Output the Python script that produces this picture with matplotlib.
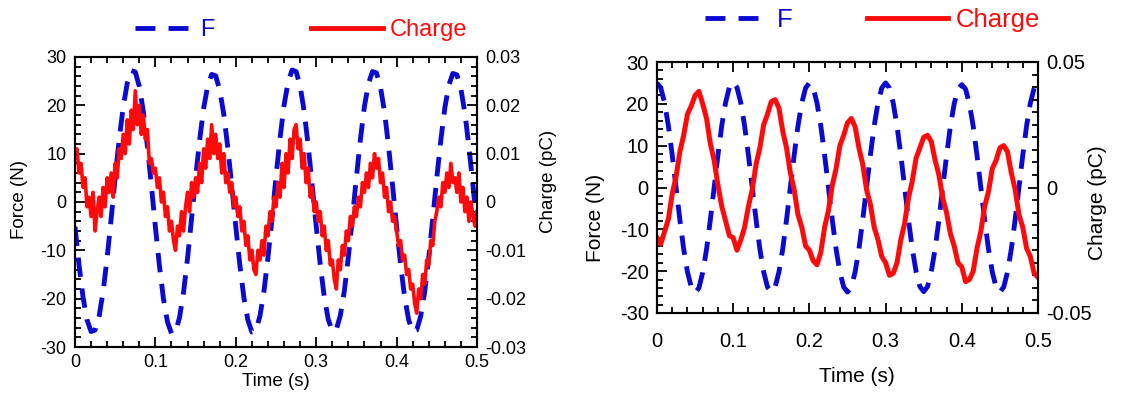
import numpy as np
import matplotlib
matplotlib.use("Agg")
import matplotlib.pyplot as plt
from matplotlib.ticker import MultipleLocator, FuncFormatter
from matplotlib.lines import Line2D

plt.rcParams['font.family'] = ['Liberation Sans', 'DejaVu Sans']
plt.rcParams['axes.unicode_minus'] = False

# --- data ---
# left panel: force (N) every 5 ms, charge (1e-3 pC) every 2.5 ms
t_left_force = np.linspace(0, 0.5, 101)
force_left = [
    -5.1, -13.0, -19.7, -24.4, -26.8, -26.5, -23.6, -18.5, -11.5, -3.4,
    5.1, 13.0, 19.7, 24.6, 27.2, 26.9, 23.9, 18.7, 11.6, 3.4,
    -5.2, -13.2, -20.0, -24.8, -27.2, -26.9, -23.9, -18.7, -11.6, -3.4,
    5.0, 12.8, 19.4, 24.0, 26.4, 26.1, 23.2, 18.2, 11.3, 3.3,
    -5.1, -13.0, -19.7, -24.4, -26.9, -26.6, -23.6, -18.5, -11.5, -3.5,
    5.2, 13.2, 20.0, 24.8, 27.3, 27.0, 24.0, 18.8, 11.7, 3.5,
    -5.0, -12.9, -19.6, -24.3, -26.7, -26.4, -23.5, -18.4, -11.4, -3.4,
    5.1, 13.0, 19.8, 24.5, 27.0, 26.7, 23.7, 18.6, 11.5, 3.4,
    -5.1, -13.0, -19.7, -24.4, -26.8, -26.5, -23.6, -18.5, -11.5, -3.4,
    5.0, 12.8, 19.5, 24.2, 26.6, 26.3, 23.4, 18.3, 11.4, 3.4,
    -5.1,
]
t_left_charge = np.linspace(0, 0.5, 201)
charge_left_milli = [
    10, 11, 6, 8, 3, 5, -1, 1, -3, 2,
    -6, -2, 1, -3, 3, -1, 5, 2, 6, 1,
    8, 5, 11, 9, 14, 10, 17, 12, 19, 15,
    23, 16, 20, 14, 18, 13, 15, 8, 9, 6,
    7, 3, 5, 0, 2, -3, -1, -6, -4, -8,
    -10, -5, -7, -2, -6, -1, 2, -2, 4, 1,
    5, 2, 8, 4, 11, 7, 13, 9, 16, 10,
    14, 9, 12, 6, 10, 4, 6, 2, 4, -1,
    1, -3, -1, -6, -4, -9, -7, -12, -10, -14,
    -15, -10, -12, -8, -11, -5, -7, -2, -4, 1,
    -1, 4, 1, 8, 3, 10, 6, 13, 9, 15,
    16, 11, 13, 7, 10, 4, 7, 1, 3, -2,
    0, -4, -2, -7, -5, -10, -8, -13, -12, -16,
    -18, -12, -14, -9, -11, -6, -8, -3, -5, -1,
    -3, 1, -1, 4, 2, 6, 3, 8, 5, 10,
    7, 9, 4, 6, 1, 3, -2, 0, -4, -3,
    -6, -9, -8, -12, -11, -15, -14, -18, -17, -21,
    -23, -18, -20, -15, -17, -12, -13, -8, -9, -4,
    -2, 1, -1, 4, 2, 6, 3, 8, 4, 5,
    2, 6, 0, 3, -2, 1, -4, 0, -3, -5,
    -2,
]

# right panel: force (N) and charge (1e-3 pC) every 5 ms
t_right = np.linspace(0, 0.5, 101)
force_right = [
    25.0, 23.8, 20.2, 14.7, 7.7, 0.0, -7.7, -14.7, -20.2, -23.8,
    -25.2, -24.0, -20.3, -14.8, -7.7, 0.0, 7.8, 14.8, 20.3, 24.0,
    25.2, 23.9, 20.2, 14.7, 7.7, 0.0, -7.7, -14.7, -20.2, -23.8,
    -25.0, -23.8, -20.2, -14.7, -7.7, 0.0, 7.7, 14.7, 20.2, 23.8,
    25.0, 23.8, 20.2, 14.7, 7.7, 0.0, -7.7, -14.7, -20.2, -23.8,
    -25.0, -23.8, -20.2, -14.7, -7.7, 0.0, 7.7, 14.7, 20.2, 23.8,
    25.0, 23.8, 20.2, 14.7, 7.7, 0.0, -7.7, -14.6, -20.1, -23.7,
    -24.9, -23.7, -20.1, -14.6, -7.7, 0.0, 7.6, 14.6, 20.0, 23.5,
    24.6, 23.5, 20.0, 14.6, 7.6, 0.0, -7.7, -14.7, -20.2, -23.8,
    -25.0, -23.8, -20.2, -14.7, -7.7, 0.0, 7.7, 14.7, 20.2, 23.8,
    25.0,
]
charge_right_milli = [
    -20, -22.5, -17.5, -12.5, -2.5, 4.2, 14.2, 20.8, 29.2, 32.5,
    36.7, 38.3, 33.3, 27.5, 17.5, 10.8, 0.8, -7.5, -13.3, -19.2,
    -20, -25, -20.8, -15.8, -7.5, -0.8, 9.2, 15.8, 25, 29.2,
    34.2, 35, 31.7, 22.5, 15.8, 5.8, -0.8, -10.8, -15.8, -23.3,
    -25, -29.2, -30.8, -25.8, -15.8, -9.2, 0.8, 7.5, 16.7, 20.8,
    25.8, 27.5, 24.2, 15.8, 9.2, -0.8, -6.7, -15.8, -20.8, -27.5,
    -30, -35, -34.2, -30, -20.8, -14.2, -4.2, 2.5, 11.7, 15.8,
    20, 20.8, 18.3, 10.8, 5, -4.2, -10, -18.3, -23.3, -30,
    -31.7, -37.5, -36.7, -33.3, -24.2, -17.5, -7.5, -1.7, 7.5, 10.8,
    15.8, 16.7, 14.2, 5.8, -0.8, -10.8, -15.8, -24.2, -27.5, -34.2,
    -35.8,
]
charge_left = np.array(charge_left_milli) * 1e-3
charge_right = np.array(charge_right_milli) * 1e-3

BLUE = '#0a0ad2'
RED = '#ff0a0a'
DASH = (0, (4, 2.4))


def fmt(v, pos):
    return f'{round(v, 6) + 0:g}'


def style(ax, ax2, fs, xpad):
    for a in (ax, ax2):
        for s in a.spines.values():
            s.set_linewidth(1.5)
    ax.tick_params(which='both', direction='in', top=True, right=False, width=1.3,
                   labelsize=fs)
    ax.tick_params(axis='x', pad=xpad)
    ax.tick_params(axis='y', pad=6)
    ax.tick_params(which='major', length=7)
    ax.tick_params(which='minor', length=4)
    ax2.tick_params(which='both', direction='in', width=1.3, labelsize=fs, pad=6)
    ax2.tick_params(which='major', length=7)
    ax2.tick_params(which='minor', length=4)
    ax.xaxis.set_major_formatter(FuncFormatter(fmt))
    ax.yaxis.set_major_formatter(FuncFormatter(fmt))
    ax2.yaxis.set_major_formatter(FuncFormatter(fmt))
    ax.set_xlim(0, 0.5)
    ax.xaxis.set_major_locator(MultipleLocator(0.1))
    ax.xaxis.set_minor_locator(MultipleLocator(0.02))
    ax.set_ylim(-30, 30)
    ax.yaxis.set_major_locator(MultipleLocator(10))
    ax.yaxis.set_minor_locator(MultipleLocator(2))


def legend_pair(ax, fs, xf, xc, y, lenf, lenc, padf):
    # two separate legends so each handle can have its own length
    hf = Line2D([], [], color=BLUE, lw=3.5, ls=(0, (4.1, 2.7)), dash_capstyle='butt')
    hc = Line2D([], [], color=RED, lw=3.5)
    common = dict(frameon=False, loc='center left', bbox_transform=fig.transFigure,
                  fontsize=fs, borderpad=0, borderaxespad=0, labelcolor='linecolor')
    lg1 = ax.legend([hf], ['F'], bbox_to_anchor=(xf / 1126, 1 - y / 398),
                    handlelength=lenf, handletextpad=padf, **common)
    ax.add_artist(lg1)
    ax.legend([hc], ['Charge'], bbox_to_anchor=(xc / 1126, 1 - y / 398),
              handlelength=lenc, handletextpad=0.3, **common)


fig = plt.figure(figsize=(11.26, 3.98), dpi=100)

# --- left panel ---
ax = fig.add_axes([75 / 1126, 51 / 398, 402 / 1126, 290 / 398])
ax2 = ax.twinx()
ax.plot(t_left_force, force_left, color=BLUE, lw=3.5, ls=DASH, dash_capstyle='butt')
ax2.plot(t_left_charge, charge_left, color=RED, lw=2.6)
ax2.set_ylim(-0.03, 0.03)
ax2.yaxis.set_major_locator(MultipleLocator(0.01))
ax2.yaxis.set_minor_locator(MultipleLocator(0.002))
style(ax, ax2, 13, 5)
ax.set_xlabel('Time (s)', fontsize=13.5)
ax.set_ylabel('Force (N)', fontsize=13.5)
ax2.set_ylabel('Charge (pC)', fontsize=13.5)
ax.xaxis.set_label_coords(0.5, -0.09)
ax.yaxis.set_label_coords(-0.117, 0.51)
ax2.yaxis.set_label_coords(1.157, 0.57)
legend_pair(ax2, 17, 135, 311, 30, 2.25, 3.05, 0.5)

# --- right panel ---
bx = fig.add_axes([657 / 1126, 85 / 398, 381 / 1126, 251 / 398])
bx2 = bx.twinx()
bx2.plot(t_right, charge_right, color=RED, lw=3.6)
bx.plot(t_right, force_right, color=BLUE, lw=3.5, ls=DASH, dash_capstyle='butt')
bx2.set_ylim(-0.05, 0.05)
bx2.yaxis.set_major_locator(MultipleLocator(0.05))
bx2.yaxis.set_minor_locator(MultipleLocator(0.005))
style(bx, bx2, 14.5, 14)
bx.set_xlabel('Time (s)', fontsize=15)
bx.set_ylabel('Force (N)', fontsize=15)
bx2.set_ylabel('Charge (pC)', fontsize=15)
bx.xaxis.set_label_coords(0.525, -0.215)
bx.yaxis.set_label_coords(-0.136, 0.38)
bx2.yaxis.set_label_coords(1.131, 0.44)
legend_pair(bx2, 18.5, 705, 867, 20, 2.22, 3.15, 0.58)

fig.savefig('out.png', dpi=100)
